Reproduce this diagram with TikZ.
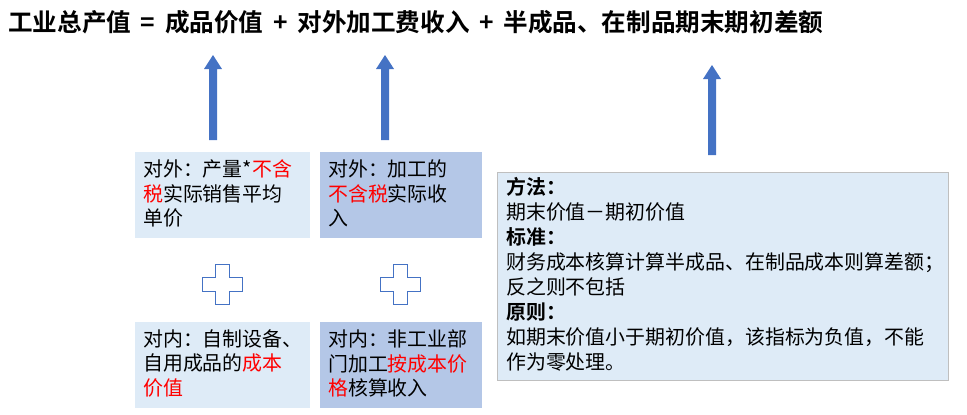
\documentclass[tikz,border=0pt]{standalone}
\usepackage{fontspec}
\setmainfont{Noto Sans CJK SC}[BoldFont={Noto Sans CJK SC Bold}]
\usetikzlibrary{positioning}
\definecolor{arrowblue}{HTML}{4472C4}
\definecolor{lightbox}{HTML}{DEEBF7}
\definecolor{darkbox}{HTML}{B4C7E7}
\tikzset{
  boxtext/.style={font=\fontsize{17pt}{21.3pt}\selectfont,align=left,anchor=north west,inner sep=0pt},
  uparrow/.style={fill=arrowblue,draw=none},
  plusshape/.style={draw=arrowblue,thick,fill=white},
}
\newcommand{\hl}[1]{\textcolor{red}{#1}}
\begin{document}
\begin{tikzpicture}[x=0.03cm,y=-0.03cm]
  \useasboundingbox (0,0) rectangle (967,414);

  % Title
  \node[anchor=west,inner sep=0pt,font=\fontsize{21pt}{24pt}\selectfont\bfseries] (title) at (8,22)
    {工业总产值 \,=\, 成品价值 \,+\, 对外加工费收入 \,+\, 半成品、在制品期末期初差额};

  % Arrows
  \foreach \x/\ya/\yb in {213/55/140, 385/55/140, 712/65/155}{
    \fill[uparrow] (\x-4,\yb) -- (\x-4,\ya+14) -- (\x-9,\ya+14) -- (\x,\ya) -- (\x+9,\ya+14) -- (\x+4,\ya+14) -- (\x+4,\yb) -- cycle;
  }

  % Boxes
  \fill[lightbox] (135,152) rectangle (310,238);
  \fill[darkbox] (320,152) rectangle (482,238);
  \fill[lightbox] (135,322) rectangle (310,408);
  \fill[darkbox] (320,322) rectangle (482,408);
  \filldraw[fill=lightbox,draw=gray!50] (497,172) rectangle (948,380);

  \node[boxtext] (outA) at (143,159) {对外：产量*\hl{不含}\\\hl{税}实际销售平均\\单价};
  \node[boxtext] (outB) at (328,159) {对外：加工的\\\hl{不含税}实际收\\入};
  \node[boxtext] (inA) at (143,329) {对内：自制设备、\\自用成品的\hl{成本}\\\hl{价值}};
  \node[boxtext] (inB) at (328,329) {对内：非工业部\\门加工\hl{按成本价}\\\hl{格}核算收入};
  \node[boxtext] (rule) at (506,177)
    {\textbf{方法：}\\期末价值－期初价值\\\textbf{标准：}\\财务成本核算计算半成品、在制品成本则算差额；\\反之则不包括\\\textbf{原则：}\\如期末价值小于期初价值，该指标为负值，不能\\作为零处理。};

  % Plus shapes
  \foreach \x in {222,400}{
    \draw[plusshape] (\x-7,264) -- (\x+7,264) -- (\x+7,277) -- (\x+20,277) -- (\x+20,291) -- (\x+7,291) -- (\x+7,304) -- (\x-7,304) -- (\x-7,291) -- (\x-20,291) -- (\x-20,277) -- (\x-7,277) -- cycle;
  }
\end{tikzpicture}
\end{document}
